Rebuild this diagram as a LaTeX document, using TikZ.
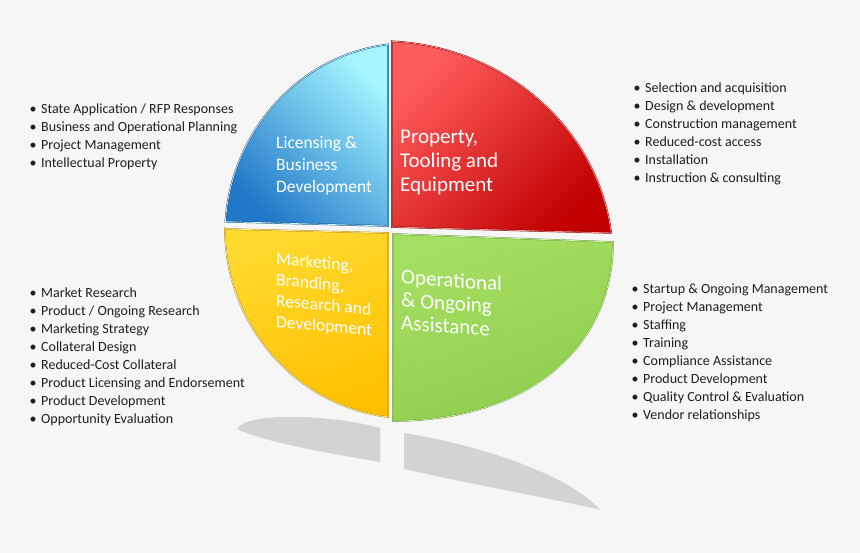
\documentclass[tikz,border=0pt]{standalone}
\usepackage{fontspec}
\setmainfont{Carlito}

\definecolor{bgcol}{HTML}{F6F6F6}
\definecolor{shadowcol}{HTML}{D3D3D3}
\definecolor{bluelight}{HTML}{A4F5FF}
\definecolor{bluedark}{HTML}{2178C8}
\definecolor{blueedge}{HTML}{0B4E8E}
\definecolor{redlight}{HTML}{FF5C5C}
\definecolor{reddark}{HTML}{C20000}
\definecolor{rededge}{HTML}{860000}
\definecolor{yellowlight}{HTML}{FFDA2E}
\definecolor{yellowdark}{HTML}{FFC000}
\definecolor{yellowedge}{HTML}{C08E00}
\definecolor{greenlight}{HTML}{A5DF62}
\definecolor{greendark}{HTML}{8FCD4E}
\definecolor{greenedge}{HTML}{66A032}
\definecolor{listtext}{HTML}{1E1E1E}

\newcommand{\itembul}{\llap{\textbullet\hspace{4.5pt}}}

\begin{document}
\begin{tikzpicture}[x=1pt,y=-1pt,
    quad/.style={shading=axis,line width=0.45pt,double distance=0.7pt},
    quadlabel/.style={text=white,align=left,anchor=north west,inner sep=0pt},
    itemlist/.style={text=listtext,align=left,anchor=north west,inner sep=0pt,
      font=\fontsize{14}{18}\selectfont}]
  \fill[bgcol] (0,0) rectangle (860,553);

  % shadows under the pie
  \begin{scope}
    \fill[shadowcol] (237,429) .. controls (245,412) and (330,414) .. (380,428)
      -- (380,462) .. controls (320,452) and (262,441) .. (237,429) -- cycle;
    \fill[shadowcol] (404,433) .. controls (480,445) and (570,475) .. (600,510)
      .. controls (560,500) and (470,484) .. (404,469) -- cycle;
  \end{scope}

  % the four quarters
  \begin{scope}
    \shade[quad,top color=bluelight,bottom color=bluedark,shading angle=-45,
      draw=blueedge,double=bluelight!50!white]
      (388,226) -- (388,44.4) arc[start angle=263.2,end angle=184,x radius=185,y radius=192] -- cycle;
    \shade[quad,top color=redlight,bottom color=reddark,shading angle=45,
      draw=rededge,double=redlight!60!white]
      (392,227) -- (392,41.3) arc[start angle=272.95,end angle=352.9,x radius=233,y radius=219] -- cycle;
    \shade[quad,top color=yellowlight,bottom color=yellowdark,shading angle=20,
      draw=yellowedge,double=yellowlight!40!white]
      (226,229) -- (388,233) -- (388,417) arc[start angle=96.8,end angle=180,x radius=185,y radius=190] -- cycle;
    \shade[quad,top color=greenlight,bottom color=greendark,shading angle=20,
      draw=greenedge,double=greenlight!40!white]
      (393,234) -- (613,242) .. controls (613,350) and (525,421) .. (393,421) -- cycle;
  \end{scope}

  \node[quadlabel,font=\fontsize{17.5}{22}\selectfont] (licensing) at (276,136)
    {Licensing \&\\Business\\Development};
  \node[quadlabel,font=\fontsize{21}{24}\selectfont] (property) at (400,130)
    {Property,\\Tooling and\\Equipment};
  \node[quadlabel,font=\fontsize{17.5}{21}\selectfont,yslant=-0.09] (marketing) at (276,252)
    {Marketing,\\Branding,\\Research and\\Development};
  \node[quadlabel,font=\fontsize{21}{23}\selectfont,yslant=-0.07] (operational) at (401,269)
    {Operational\\\& Ongoing\\Assistance};

  \node[itemlist] (licensing list) at (41,104)
    {\itembul State Application / RFP Responses\\
     \itembul Business and Operational Planning\\
     \itembul Project Management\\
     \itembul Intellectual Property};
  \node[itemlist] (property list) at (645,83)
    {\itembul Selection and acquisition\\
     \itembul Design \& development\\
     \itembul Construction management\\
     \itembul Reduced-cost access\\
     \itembul Installation\\
     \itembul Instruction \& consulting};
  \node[itemlist] (marketing list) at (41,287.5)
    {\itembul Market Research\\
     \itembul Product / Ongoing Research\\
     \itembul Marketing Strategy\\
     \itembul Collateral Design\\
     \itembul Reduced-Cost Collateral\\
     \itembul Product Licensing and Endorsement\\
     \itembul Product Development\\
     \itembul Opportunity Evaluation};
  \node[itemlist] (operational list) at (643,284)
    {\itembul Startup \& Ongoing Management\\
     \itembul Project Management\\
     \itembul Staffing\\
     \itembul Training\\
     \itembul Compliance Assistance\\
     \itembul Product Development\\
     \itembul Quality Control \& Evaluation\\
     \itembul Vendor relationships};
\end{tikzpicture}
\end{document}
